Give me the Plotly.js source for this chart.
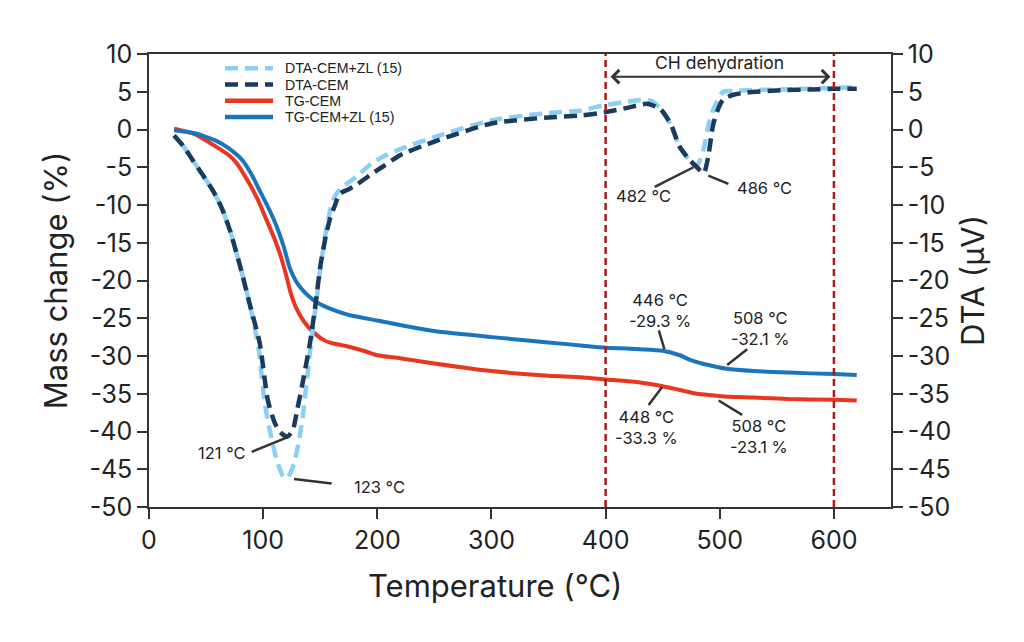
<!DOCTYPE html>
<html>
<head>
<meta charset="utf-8">
<script src="https://cdn.plot.ly/plotly-3.0.1.min.js"></script>
<style>html,body{margin:0;padding:0;background:#fff;}#chart{width:1024px;height:642px;}</style>
</head>
<body>
<div id="chart"></div>
<script>
// Temperature (°C) and values
var tDtaZL = [22,30,38.5,47,56,64,71,80,88,96,101,106,112,117,121,126,131,135,141,146,150,155,159,163,168,175,182,195,205,220,250,300,350,378,398,420,430,440,448,457,465,474,480,486,490,494,503,512,524,553,580,600,620];
var dtaZL  = [-0.8,-2.2,-4.1,-6,-8.1,-10.5,-13.4,-18.2,-23,-29,-35.8,-40,-43.8,-45.8,-46.2,-44.7,-41.6,-37.6,-29.5,-23.5,-18.5,-13.5,-10.5,-8.8,-7.8,-7.0,-6.2,-4.5,-3.6,-2.6,-1.0,1.2,2.2,2.5,3.2,3.7,3.9,3.8,2.8,0.6,-2.4,-4.2,-4.8,-2.5,0.5,2.5,5.0,5.1,5.2,5.3,5.4,5.5,5.6];

var tDtaCEM = [22,30,38.5,47,56,64,71,80,88,97,104,110,115,121,126,130,134,141,146,150,155,159,163,167,175,182,195,205,220,250,300,350,378,400,420,436,448,457,465,474,480,486,490,494,498,503,512,524,553,580,600,620];
var dtaCEM  = [-0.8,-2.2,-4.1,-6,-8.1,-10.5,-13.4,-18.2,-23,-28.3,-35.8,-38.8,-40.1,-40.7,-39.8,-37,-34,-28.3,-23,-18.2,-14,-11.6,-10,-8.5,-7.9,-7.3,-5.9,-4.9,-3.4,-1.6,0.8,1.6,1.85,2.3,2.9,3.4,2.7,0.75,-2.3,-4.1,-5.0,-5.8,-3.5,0.5,2.5,4.0,4.6,4.9,5.2,5.3,5.4,5.4];

var tTgCEM = [22,40,59,70,77,88,95,103,110,115,120,124,128,132,136,141,146,152,160,170,176,190,200,220,250,300,350,378,400,430,450,465,480,494,508,530,560,600,620];
var tgCEM  = [0.1,-0.6,-2.3,-3.4,-4.5,-7.2,-9.2,-12,-14.5,-16.6,-19.2,-21.6,-23.3,-24.5,-25.5,-26.4,-27.1,-27.8,-28.3,-28.6,-28.8,-29.4,-29.9,-30.3,-31,-32,-32.6,-32.8,-33.1,-33.5,-34,-34.5,-35,-35.2,-35.4,-35.5,-35.7,-35.8,-35.9];

var tTgZL = [22,40,59,70,82,90,97,105,112,118,123,128,133,140,146,152,165,176,200,220,250,300,350,378,400,430,450,465,474,490,506,530,560,600,620];
var tgZL  = [-0.1,-0.5,-1.5,-2.5,-4.1,-6,-8.1,-10.5,-12.9,-15.5,-18.2,-19.9,-21.0,-22.1,-22.8,-23.3,-24.1,-24.6,-25.3,-25.9,-26.7,-27.5,-28.2,-28.6,-28.9,-29.1,-29.3,-29.9,-30.5,-31.2,-31.7,-32.0,-32.2,-32.4,-32.5];

var seriesNames = ['DTA-CEM+ZL (15)','DTA-CEM','TG-CEM','TG-CEM+ZL (15)'];
var seriesColors = ['#8ccff5','#1b3a5e','#e8361f','#1b75bd'];
var xTicks = [0,100,200,300,400,500,600];
var yTicks = [-50,-45,-40,-35,-30,-25,-20,-15,-10,-5,0,5,10];
var yTickText = yTicks.map(function(v){return String(v);});
var regionBounds = [400,600];

var FONT = 'Inter, "Open Sans", sans-serif';
var LEGFONT = '"Liberation Sans", Arial, sans-serif';
var DASH_A = '13px,7px';
var DASH_B = '3px,7px,10px,0px';

var traces = [
  {x:tDtaZL, y:dtaZL, name:seriesNames[0], yaxis:'y2', mode:'lines', line:{color:seriesColors[0], width:4.5, dash:DASH_B, shape:'spline', smoothing:0.6}},
  {x:tDtaCEM, y:dtaCEM, name:seriesNames[1], yaxis:'y2', mode:'lines', line:{color:seriesColors[1], width:4.5, dash:DASH_A, shape:'spline', smoothing:0.6}},
  {x:tTgCEM, y:tgCEM, name:seriesNames[2], mode:'lines', line:{color:seriesColors[2], width:4, shape:'spline', smoothing:0.6}},
  {x:tTgZL, y:tgZL, name:seriesNames[3], mode:'lines', line:{color:seriesColors[3], width:4, shape:'spline', smoothing:0.6}}
];

var lineC = '#333333';
function seg(x0,y0,x1,y1){return {type:'line', xref:'x', yref:'y', x0:x0, y0:y0, x1:x1, y1:y1, line:{color:lineC, width:2.5}};}
var shapes = [
  {type:'line', xref:'x', yref:'paper', x0:regionBounds[0], x1:regionBounds[0], y0:0, y1:1, line:{color:'#a51c1c', width:2.5, dash:'7px,4px'}},
  {type:'line', xref:'x', yref:'paper', x0:regionBounds[1], x1:regionBounds[1], y0:0, y1:1, line:{color:'#a51c1c', width:2.5, dash:'7px,4px'}},
  seg(90,-42.7,120.5,-40.8),
  seg(127,-46.3,160,-46.9),
  seg(443,-7.6,477,-5.0),
  seg(490,-6.1,507.6,-7.2),
  seg(446.6,-26.6,451.5,-29.1),
  seg(524,-29.1,506.5,-31.2),
  seg(437.7,-36.5,449.5,-34.1),
  seg(519.6,-37.8,499,-35.9)
];

// legend drawn in paper space (plot area: x 149..891 px, y 54..507 px)
function px2x(p){return (p-149)/742;}
function px2y(p){return (507-p)/453;}
var legRows = [68.3, 84.5, 100.8, 117.0];
var legDash = [DASH_A, DASH_A, 'solid', 'solid'];

var af = {family:FONT, size:16.5, color:'#222'};
function lab(x,y,t){return {x:x, y:y, xref:'x', yref:'y', text:t, showarrow:false, font:af};}
var annotations = [
  {x:regionBounds[1]-3, y:7.0, ax:regionBounds[0]+3, ay:7.0, xref:'x', yref:'y', axref:'x', ayref:'y', text:'', showarrow:true, arrowhead:4, startarrowhead:4, arrowside:'end+start', arrowsize:1.3, startarrowsize:1.3, arrowwidth:2, arrowcolor:'#333'},
  {x:500, y:8.9, xref:'x', yref:'y', text:'CH dehydration', showarrow:false, font:{family:FONT, size:17.5, color:'#222'}},
  lab(64,-42.9,'121 °C'),
  lab(202,-47.4,'123 °C'),
  lab(433,-8.8,'482 °C'),
  lab(539,-7.7,'486 °C'),
  lab(448,-24.0,'446 °C<br>-29.3 %'),
  lab(535.7,-26.3,'508 °C<br>-32.1 %'),
  lab(435.6,-39.5,'448 °C<br>-33.3 %'),
  lab(534.8,-40.7,'508 °C<br>-23.1 %'),
  {x:px2x(495), y:px2y(585), xref:'paper', yref:'paper', text:'Temperature (°C)', showarrow:false, xanchor:'center', yanchor:'middle', font:{family:FONT, size:31, color:'#222'}}
];

for (var i=0;i<seriesNames.length;i++){
  shapes.push({type:'line', xref:'paper', yref:'paper', x0:px2x(225), x1:px2x(273), y0:px2y(legRows[i]), y1:px2y(legRows[i]), line:{color:seriesColors[i], width:4.5, dash:legDash[i]}});
  annotations.push({x:px2x(284), y:px2y(legRows[i]), xref:'paper', yref:'paper', xanchor:'left', yanchor:'middle', borderpad:0, text:seriesNames[i], showarrow:false, font:{family:LEGFONT, size:14.2, color:'#222'}});
}

var tickFont = {family:FONT, size:25, color:'#222'};
var titleFont = {family:FONT, size:31, color:'#222'};

var layout = {
  width:1024, height:642,
  margin:{l:149, r:133, t:54, b:135},
  paper_bgcolor:'#fff', plot_bgcolor:'#fff',
  showlegend:false,
  xaxis:{range:[0,650], tickvals:xTicks, ticks:'outside', ticklen:10, tickwidth:1.5, tickcolor:'#333', showline:true, linecolor:'#333', linewidth:1.5, mirror:true, showgrid:false, zeroline:false, tickfont:tickFont},
  yaxis:{range:[-50,10], tickvals:yTicks, ticktext:yTickText, ticks:'outside', ticklen:10, tickwidth:1.5, tickcolor:'#333', showline:true, linecolor:'#333', linewidth:1.5, showgrid:false, zeroline:false, tickfont:tickFont, title:{text:'Mass change (%)', font:titleFont, standoff:12}},
  yaxis2:{range:[-50,10], tickvals:yTicks, ticktext:yTickText, overlaying:'y', side:'right', ticks:'outside', ticklen:10, tickwidth:1.5, tickcolor:'#333', showline:true, linecolor:'#333', linewidth:1.5, showgrid:false, zeroline:false, tickfont:tickFont, title:{text:'DTA (µV)', font:titleFont, standoff:12}},
  shapes:shapes,
  annotations:annotations
};

Plotly.newPlot('chart', traces, layout, {displayModeBar:false, responsive:false});
</script>
</body>
</html>
